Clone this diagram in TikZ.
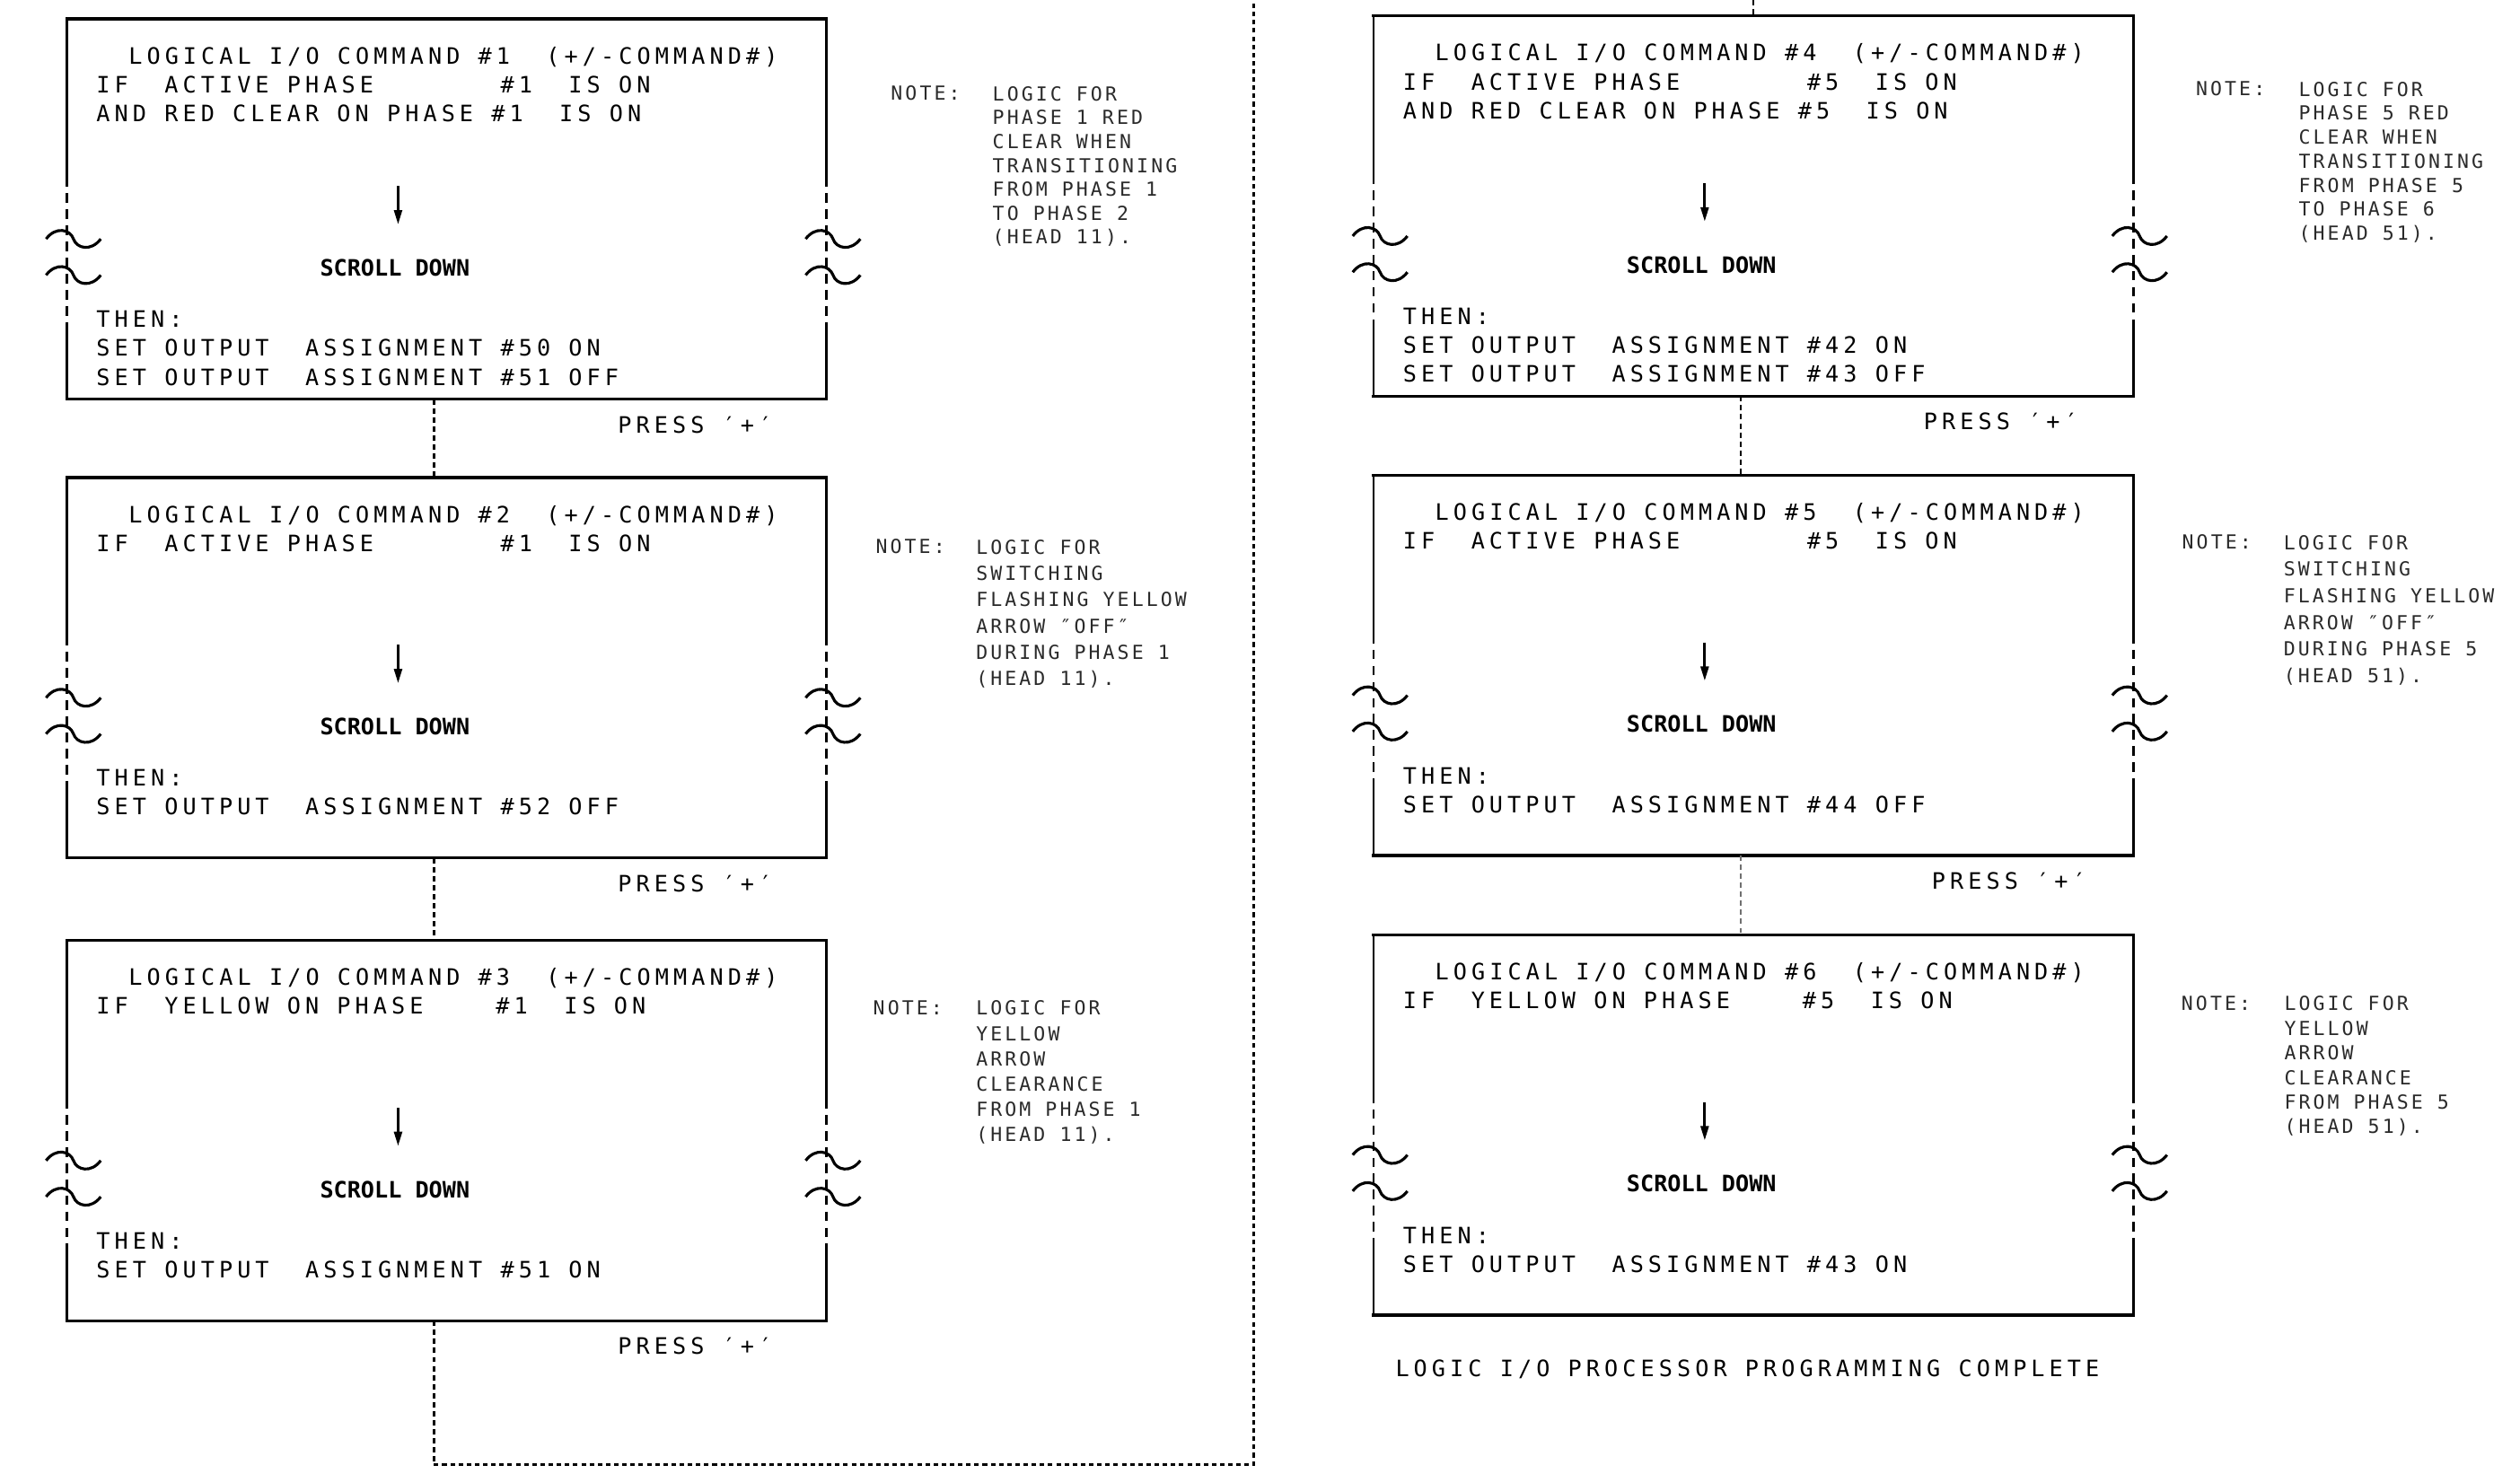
\documentclass[tikz,border=0pt]{standalone}
\usepackage{fontspec}
\usetikzlibrary{arrows.meta, calc}
\newfontfamily\cadfont{DejaVu Sans Mono}[LetterSpace=20.2]
\newfontfamily\notefont{DejaVu Sans Mono}[LetterSpace=14.3]
\newfontfamily\scrollfont{DejaVu Sans Mono Bold}
\definecolor{notegray}{HTML}{2A2A2A}
\definecolor{linkgray}{HTML}{707070}

\begin{document}
\begin{tikzpicture}[
  x=0.02cm, y=-0.02cm,
  >={Triangle[length=5.1pt, width=2.8pt]},
  iobox/.style={rectangle, minimum width=9.44cm, minimum height=4.72cm, inner sep=0pt},
  boxedge/.style={line width=1.1pt, line cap=rect},
  boxside/.style={line width=0.9pt},
  breakdash/.style={dash pattern=on 3.4pt off 2.3pt},
  cadtext/.style={font={\cadfont\fontsize{8pt}{9.6pt}\selectfont}, anchor=base west, inner sep=0pt},
  scrolltext/.style={font={\scrollfont\fontsize{8pt}{9.6pt}\selectfont}, anchor=base, inner sep=0pt},
  notetext/.style={font={\notefont\fontsize{6.85pt}{#1}\selectfont}, text=notegray,
    align=left, anchor=base west, inner sep=0pt},
  notetext/.default=8.9pt,
  link/.style={line width=0.8pt, dash pattern=on 1.9pt off 1.3pt},
  route/.style={line width=0.9pt, dash pattern=on 1.6pt off 1.3pt},
  scrollarrow/.style={->, line width=0.9pt},
  pics/brk/.style={code={
    \draw[line width=1pt] (-13,0) .. controls (-7,-8) and (2,-6) .. (4,0)
      .. controls (6,6) and (15,8) .. (21,0);}},
]
\useasboundingbox (0,0) rectangle (1568,917);

% =============================================
% Command screens
% =============================================
\node[iobox] (cmd1) at (278,130) {};
\node[iobox] (cmd2) at (278,415.5) {};
\node[iobox] (cmd3) at (278,703.5) {};
\node[iobox] (cmd4) at (1091,128.2) {};
\node[iobox] (cmd5) at (1091,414) {};
\node[iobox] (cmd6) at (1091,700) {};

% outlines with the scroll break on both sides
\foreach \b in {cmd1,cmd2,cmd3,cmd4,cmd5,cmd6}{
  \draw[boxedge] (\b.north west) -- (\b.north east);
  \draw[boxedge] (\b.south west) -- (\b.south east);
  \foreach \c in {west,east}{
    \draw[boxside] (\b.north \c) -- ($(\b.north \c)+(0,98.6)$);
    \draw[boxside, breakdash] ($(\b.north \c)+(0,98.6)$) -- ($(\b.north \c)+(0,190.8)$);
    \draw[boxside] ($(\b.north \c)+(0,190.8)$) -- (\b.south \c);
    \pic at ($(\b.north \c)+(0,137)$) {brk};
    \pic at ($(\b.north \c)+(0,159.5)$) {brk};
  }
}

% --- Command 1
\node[cadtext] (c1title) at ($(cmd1.north west)+(38,28)$) {LOGICAL I/O COMMAND \#1~~(+/-COMMAND\#)};
\node[cadtext] (c1if) at ($(cmd1.north west)+(18,46)$) {IF~~ACTIVE PHASE~~~~~~~\#1~~IS ON};
\node[cadtext] (c1and) at ($(cmd1.north west)+(18,64)$) {AND RED CLEAR ON PHASE \#1~~IS ON};
\draw[scrollarrow] ($(cmd1.north west)+(206,104)$) -- ($(cmd1.north west)+(206,128)$);
\node[scrolltext] (c1scroll) at ($(cmd1.north west)+(204,160)$) {SCROLL DOWN};
\node[cadtext] (c1then) at ($(cmd1.north west)+(18,192)$) {THEN:};
\node[cadtext] (c1set1) at ($(cmd1.north west)+(18,210)$) {SET OUTPUT~~ASSIGNMENT \#50 ON};
\node[cadtext] (c1set2) at ($(cmd1.north west)+(18,228)$) {SET OUTPUT~~ASSIGNMENT \#51 OFF};

% --- Command 2
\node[cadtext] (c2title) at ($(cmd2.north west)+(38,28)$) {LOGICAL I/O COMMAND \#2~~(+/-COMMAND\#)};
\node[cadtext] (c2if) at ($(cmd2.north west)+(18,46)$) {IF~~ACTIVE PHASE~~~~~~~\#1~~IS ON};
\draw[scrollarrow] ($(cmd2.north west)+(206,104)$) -- ($(cmd2.north west)+(206,128)$);
\node[scrolltext] (c2scroll) at ($(cmd2.north west)+(204,160)$) {SCROLL DOWN};
\node[cadtext] (c2then) at ($(cmd2.north west)+(18,192)$) {THEN:};
\node[cadtext] (c2set1) at ($(cmd2.north west)+(18,210)$) {SET OUTPUT~~ASSIGNMENT \#52 OFF};

% --- Command 3
\node[cadtext] (c3title) at ($(cmd3.north west)+(38,28)$) {LOGICAL I/O COMMAND \#3~~(+/-COMMAND\#)};
\node[cadtext] (c3if) at ($(cmd3.north west)+(18,46)$) {IF~~YELLOW ON PHASE~~~~\#1~~IS ON};
\draw[scrollarrow] ($(cmd3.north west)+(206,104)$) -- ($(cmd3.north west)+(206,128)$);
\node[scrolltext] (c3scroll) at ($(cmd3.north west)+(204,160)$) {SCROLL DOWN};
\node[cadtext] (c3then) at ($(cmd3.north west)+(18,192)$) {THEN:};
\node[cadtext] (c3set1) at ($(cmd3.north west)+(18,210)$) {SET OUTPUT~~ASSIGNMENT \#51 ON};

% --- Command 4
\node[cadtext] (c4title) at ($(cmd4.north west)+(38,28)$) {LOGICAL I/O COMMAND \#4~~(+/-COMMAND\#)};
\node[cadtext] (c4if) at ($(cmd4.north west)+(18,46)$) {IF~~ACTIVE PHASE~~~~~~~\#5~~IS ON};
\node[cadtext] (c4and) at ($(cmd4.north west)+(18,64)$) {AND RED CLEAR ON PHASE \#5~~IS ON};
\draw[scrollarrow] ($(cmd4.north west)+(206,104)$) -- ($(cmd4.north west)+(206,128)$);
\node[scrolltext] (c4scroll) at ($(cmd4.north west)+(204,160)$) {SCROLL DOWN};
\node[cadtext] (c4then) at ($(cmd4.north west)+(18,192)$) {THEN:};
\node[cadtext] (c4set1) at ($(cmd4.north west)+(18,210)$) {SET OUTPUT~~ASSIGNMENT \#42 ON};
\node[cadtext] (c4set2) at ($(cmd4.north west)+(18,228)$) {SET OUTPUT~~ASSIGNMENT \#43 OFF};

% --- Command 5
\node[cadtext] (c5title) at ($(cmd5.north west)+(38,28)$) {LOGICAL I/O COMMAND \#5~~(+/-COMMAND\#)};
\node[cadtext] (c5if) at ($(cmd5.north west)+(18,46)$) {IF~~ACTIVE PHASE~~~~~~~\#5~~IS ON};
\draw[scrollarrow] ($(cmd5.north west)+(206,104)$) -- ($(cmd5.north west)+(206,128)$);
\node[scrolltext] (c5scroll) at ($(cmd5.north west)+(204,160)$) {SCROLL DOWN};
\node[cadtext] (c5then) at ($(cmd5.north west)+(18,192)$) {THEN:};
\node[cadtext] (c5set1) at ($(cmd5.north west)+(18,210)$) {SET OUTPUT~~ASSIGNMENT \#44 OFF};

% --- Command 6
\node[cadtext] (c6title) at ($(cmd6.north west)+(38,28)$) {LOGICAL I/O COMMAND \#6~~(+/-COMMAND\#)};
\node[cadtext] (c6if) at ($(cmd6.north west)+(18,46)$) {IF~~YELLOW ON PHASE~~~~\#5~~IS ON};
\draw[scrollarrow] ($(cmd6.north west)+(206,104)$) -- ($(cmd6.north west)+(206,128)$);
\node[scrolltext] (c6scroll) at ($(cmd6.north west)+(204,160)$) {SCROLL DOWN};
\node[cadtext] (c6then) at ($(cmd6.north west)+(18,192)$) {THEN:};
\node[cadtext] (c6set1) at ($(cmd6.north west)+(18,210)$) {SET OUTPUT~~ASSIGNMENT \#43 ON};

% =============================================
% Press '+' prompts and links between screens
% =============================================
\node[cadtext] (p1) at ($(cmd1.south west)+(342.5,21)$) {PRESS ′+′};
\node[cadtext] (p2) at ($(cmd2.south west)+(342.5,21)$) {PRESS ′+′};
\node[cadtext] (p3) at ($(cmd3.south west)+(342.5,21)$) {PRESS ′+′};
\node[cadtext] (p4) at ($(cmd4.south west)+(342,21)$) {PRESS ′+′};
\node[cadtext] (p5) at ($(cmd5.south west)+(347,21)$) {PRESS ′+′};

\draw[link] ($(cmd1.south)+(-8,0)$) -- ($(cmd2.north)+(-8,0)$);
\draw[link] ($(cmd2.south)+(-8,0)$) -- ($(cmd3.north)+(-8,0)$);

% route from the last left screen over to the right column
\coordinate (loopa) at (270,911.5);
\coordinate (loopb) at (780,911.5);
\coordinate (loopc) at (780,0);
\coordinate (loopd) at (1091,0);
\draw[link] ($(cmd3.south)+(-8,0)$) -- (loopa);
\draw[route] (loopa) -- (loopb) -- (loopc);
\draw[link] (loopd) -- (cmd4.north);

\draw[link] ($(cmd4.south)+(-8,0)$) -- ($(cmd5.north)+(-8,0)$);
\draw[link, linkgray] ($(cmd5.south)+(-8,0)$) -- ($(cmd6.north)+(-8,0)$);

\node[cadtext] (done) at (868,856.5) {LOGIC I/O PROCESSOR PROGRAMMING COMPLETE};

% =============================================
% Notes (multi-line nodes sit on their last baseline)
% =============================================
\node[notetext] (n1label) at (554,62.4) {NOTE:};
\node[notetext=8.45pt] (n1text) at (617.3,151.8)
  {LOGIC FOR\\PHASE 1 RED\\CLEAR WHEN\\TRANSITIONING\\FROM PHASE 1\\TO PHASE 2\\(HEAD 11).};

\node[notetext] (n2label) at (544.6,344.5) {NOTE:};
\node[notetext=9.3pt] (n2text) at (607,426.5)
  {LOGIC FOR\\SWITCHING\\FLASHING YELLOW\\ARROW ″OFF″\\DURING PHASE 1\\(HEAD 11).};

\node[notetext] (n3label) at (543,631.4) {NOTE:};
\node[notetext=8.96pt] (n3text) at (607,710.4)
  {LOGIC FOR\\YELLOW\\ARROW\\CLEARANCE\\FROM PHASE 1\\(HEAD 11).};

\node[notetext] (n4label) at (1366,59.5) {NOTE:};
\node[notetext=8.5pt] (n4text) at (1430,149.5)
  {LOGIC FOR\\PHASE 5 RED\\CLEAR WHEN\\TRANSITIONING\\FROM PHASE 5\\TO PHASE 6\\(HEAD 51).};

\node[notetext] (n5label) at (1357.4,341.7) {NOTE:};
\node[notetext=9.41pt] (n5text) at (1420.6,424.7)
  {LOGIC FOR\\SWITCHING\\FLASHING YELLOW\\ARROW ″OFF″\\DURING PHASE 5\\(HEAD 51).};

\node[notetext] (n6label) at (1357,628.5) {NOTE:};
\node[notetext=8.73pt] (n6text) at (1421,705.5)
  {LOGIC FOR\\YELLOW\\ARROW\\CLEARANCE\\FROM PHASE 5\\(HEAD 51).};

\end{tikzpicture}
\end{document}
